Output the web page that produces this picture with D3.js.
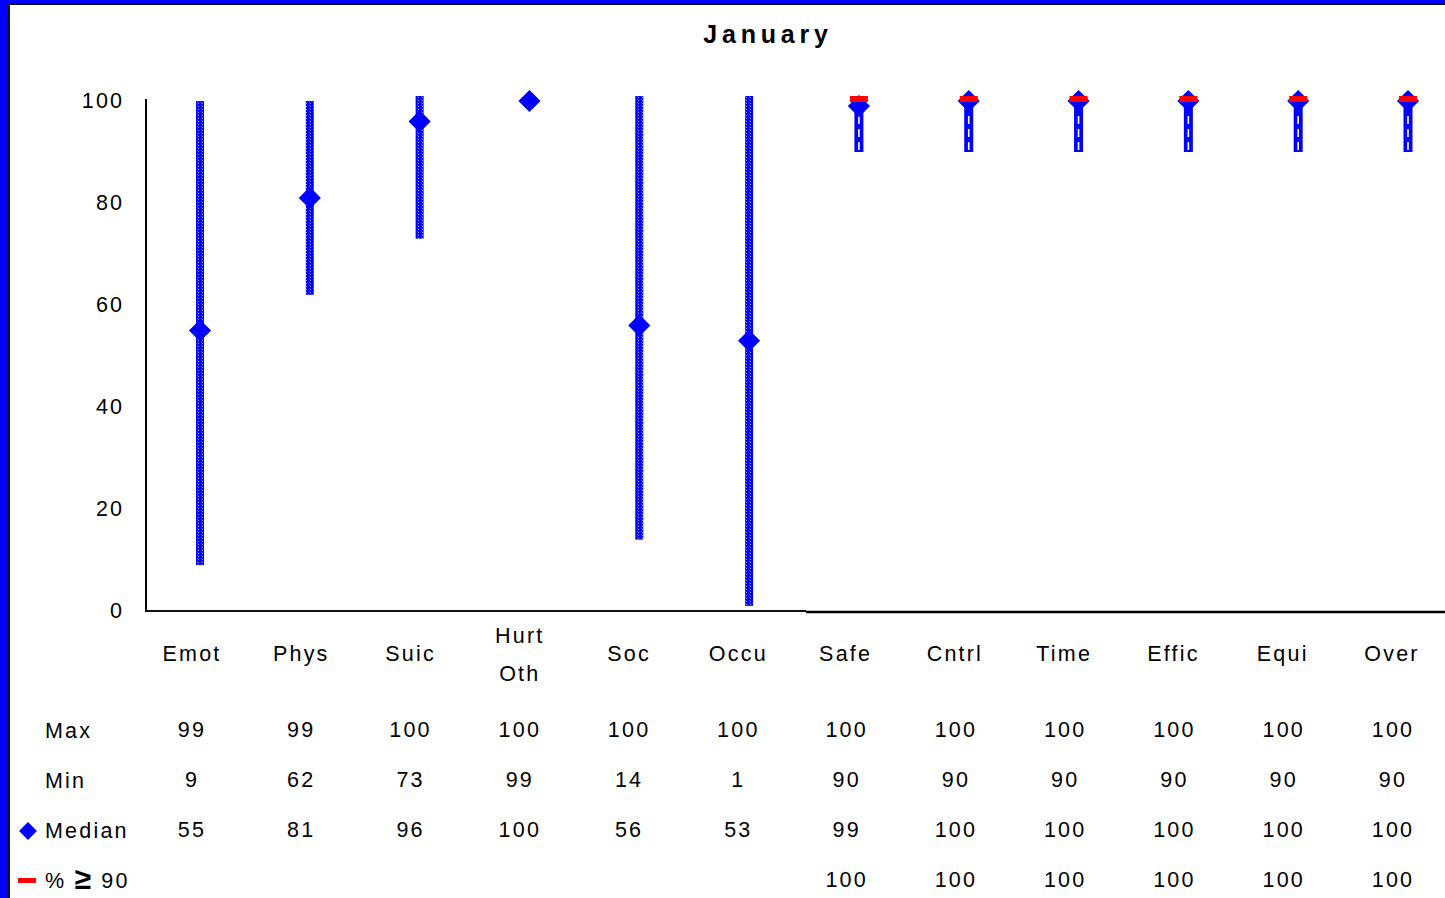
<!DOCTYPE html>
<html>
<head>
<meta charset="utf-8">
<script src="https://cdn.jsdelivr.net/npm/d3@7"></script>
<style>
  html, body { margin: 0; padding: 0; background: #fff; }
  svg { display: block; font-family: "Liberation Sans", Arial, sans-serif; }
</style>
</head>
<body>
<svg id="chart" width="1445" height="898"></svg>
<script>
const title = "January";
const categories = ["Emot", "Phys", "Suic", "Hurt\nOth", "Soc", "Occu", "Safe", "Cntrl", "Time", "Effic", "Equi", "Over"];
const maxValues = [99, 99, 100, 100, 100, 100, 100, 100, 100, 100, 100, 100];
const minValues = [9, 62, 73, 99, 14, 1, 90, 90, 90, 90, 90, 90];
const medianValues = [55, 81, 96, 100, 56, 53, 99, 100, 100, 100, 100, 100];
const pct90Values = [null, null, null, null, null, null, 100, 100, 100, 100, 100, 100];
const yTicks = [0, 20, 40, 60, 80, 100];
const rowLabels = ["Max", "Min", "Median"];

const BLUE = "#0000ff", RED = "#ff0000";
const svg = d3.select("#chart");
const W = 1445, H = 898;
const FS = 21.5, LS = "2.2px";

// frame
svg.append("rect").attr("x", 0).attr("y", 0).attr("width", W).attr("height", H).attr("fill", BLUE);
svg.append("rect").attr("x", 8).attr("y", 3).attr("width", W).attr("height", H).attr("fill", "#111");
svg.append("rect").attr("x", 10).attr("y", 5).attr("width", W).attr("height", H).attr("fill", "#fff");

// patterns
const defs = svg.append("defs");
const p1 = defs.append("pattern").attr("id", "dotted").attr("patternUnits", "userSpaceOnUse")
  .attr("width", 4).attr("height", 3);
p1.append("rect").attr("width", 4).attr("height", 3).attr("fill", BLUE);
p1.append("rect").attr("x", 2).attr("y", 1).attr("width", 1).attr("height", 1).attr("fill", "#9a9aff");
p1.append("rect").attr("x", 1).attr("y", 0).attr("width", 1).attr("height", 1).attr("fill", "#4a4aff");

const y = d3.scaleLinear().domain([0, 100]).range([611, 101]);
const idx = d3.range(categories.length);
const xBar = d3.scalePoint().domain(idx).range([200, 1408]);
const xCol = d3.scalePoint().domain(idx).range([191, 1393]);

// title
svg.append("text").attr("x", 768).attr("y", 34).attr("text-anchor", "middle")
  .attr("dominant-baseline", "central").attr("font-size", 25).attr("font-weight", "bold")
  .attr("letter-spacing", "4.8px").attr("fill", "#000").text(title);

// y axis
const yAxis = d3.axisLeft(y).tickValues(yTicks).tickSize(0).tickPadding(24);
const gy = svg.append("g").attr("transform", "translate(146,0)").call(yAxis);
gy.select(".domain").remove();
gy.selectAll("text").attr("font-size", FS).attr("letter-spacing", LS)
  .attr("font-family", "Liberation Sans, Arial, sans-serif").attr("fill", "#000").attr("dx", "2.2")
  .attr("dy", "0.3em");
svg.append("line").attr("x1", 146).attr("x2", 146).attr("y1", 99).attr("y2", 612)
  .attr("stroke", "#000").attr("stroke-width", 2);
// x axis baseline (two segments)
svg.append("line").attr("x1", 145).attr("x2", 806).attr("y1", 611).attr("y2", 611)
  .attr("stroke", "#111").attr("stroke-width", 2);
svg.append("line").attr("x1", 806).attr("x2", W).attr("y1", 612).attr("y2", 612)
  .attr("stroke", "#000").attr("stroke-width", 2.5);

// range bars
const bars = svg.append("g");
idx.forEach(i => {
  const dashed = pct90Values[i] !== null;
  const cx = xBar(i);
  const top = y(maxValues[i]) - 5, bot = y(minValues[i]);
  if (!dashed) {
    bars.append("rect").attr("x", cx - 4).attr("y", top).attr("width", 8).attr("height", bot - top)
      .attr("fill", "url(#dotted)");
  } else {
    bars.append("rect").attr("x", cx - 4.5).attr("y", top).attr("width", 9).attr("height", bot - top)
      .attr("fill", BLUE);
    bars.append("line").attr("x1", cx).attr("x2", cx).attr("y1", bot - 2).attr("y2", top + 8)
      .attr("stroke", "#fff").attr("stroke-width", 1.6).attr("stroke-dasharray", "8,5");
  }
});

// median diamonds
const diamond = d3.symbol().type(d3.symbolSquare).size(245);
svg.append("g").selectAll("path").data(idx).join("path")
  .attr("d", diamond)
  .attr("transform", i => `translate(${xBar(i)},${y(medianValues[i])}) rotate(45)`)
  .attr("fill", BLUE);

// % >= 90 markers
svg.append("g").selectAll("rect").data(idx.filter(i => pct90Values[i] !== null)).join("rect")
  .attr("x", i => xBar(i) - 9).attr("y", i => y(pct90Values[i]) - 5)
  .attr("width", 18).attr("height", 6).attr("fill", RED);

// table text
const txt = svg.append("g").attr("font-size", FS).attr("letter-spacing", LS).attr("fill", "#000");
idx.forEach(i => {
  const lines = categories[i].split("\n");
  const cx = xCol(i) + (i >= 6 ? -2 : 0);
  if (lines.length === 1) {
    txt.append("text").attr("x", cx + 1).attr("y", 654).attr("text-anchor", "middle")
      .attr("dominant-baseline", "central").text(lines[0]);
  } else {
    lines.forEach((l, k) => {
      txt.append("text").attr("x", cx + 1).attr("y", 636 + k * 38).attr("text-anchor", "middle")
        .attr("dominant-baseline", "central").text(l);
    });
  }
});
const rows = [maxValues, minValues, medianValues, pct90Values];
const rowY = [730, 780, 830, 880];
rows.forEach((arr, r) => {
  arr.forEach((v, i) => {
    if (v === null) return;
    txt.append("text").attr("x", xCol(i) + (i >= 6 ? 0 : 1)).attr("y", rowY[r]).attr("text-anchor", "middle")
      .attr("dominant-baseline", "central").text(v);
  });
});
rowLabels.forEach((l, r) => {
  txt.append("text").attr("x", 45).attr("y", rowY[r] + 1).attr("dominant-baseline", "central").text(l);
});
const lastLabel = txt.append("text").attr("x", 45).attr("y", rowY[3] + 1).attr("dominant-baseline", "central");
lastLabel.append("tspan").text("% ");
lastLabel.append("tspan").attr("font-weight", "bold").attr("font-size", 30).attr("dy", -3).text("≥");
lastLabel.append("tspan").attr("dy", 3).text(" 90");

// legend keys
svg.append("path").attr("d", d3.symbol().type(d3.symbolSquare).size(160))
  .attr("transform", `translate(28,${rowY[2] + 1}) rotate(45)`).attr("fill", BLUE);
svg.append("rect").attr("x", 18).attr("y", rowY[3] - 2).attr("width", 18).attr("height", 5).attr("fill", RED);
</script>
</body>
</html>
